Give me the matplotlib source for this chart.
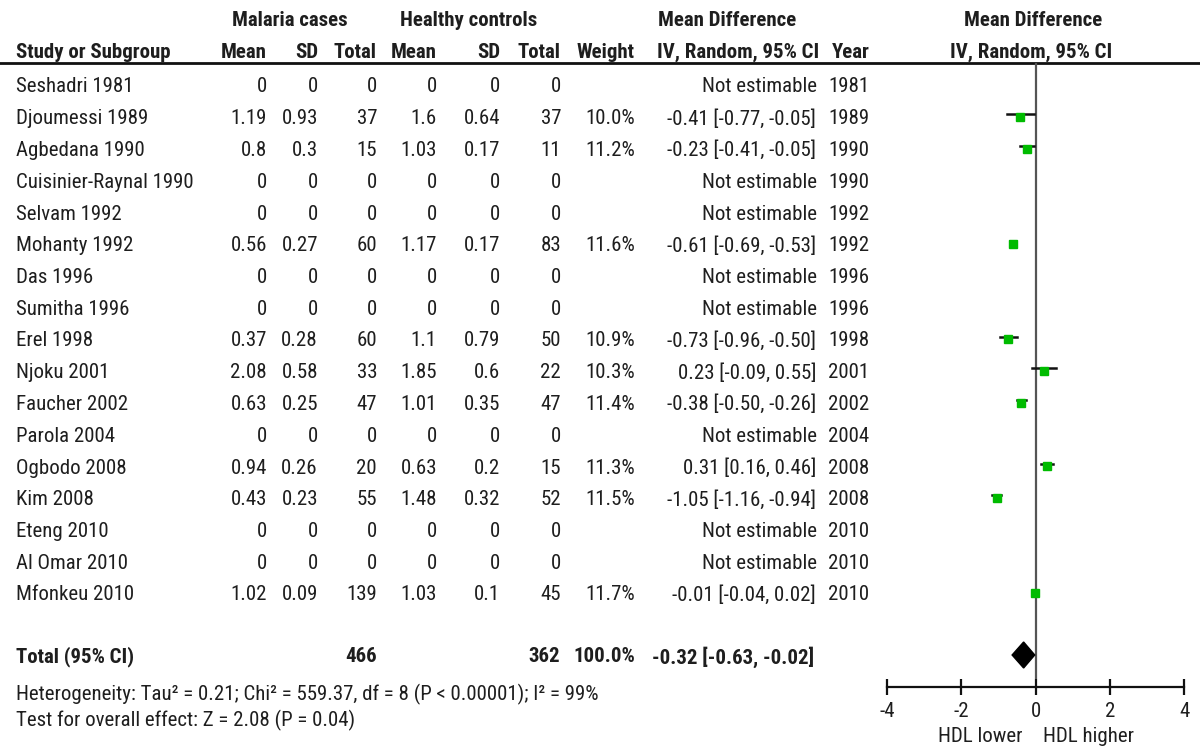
import matplotlib
matplotlib.use('Agg')
import matplotlib.pyplot as plt
import numpy as np
from matplotlib import font_manager
from matplotlib.patches import Polygon

# data
studies = ['Seshadri 1981', 'Djoumessi 1989', 'Agbedana 1990', 'Cuisinier-Raynal 1990',
           'Selvam 1992', 'Mohanty 1992', 'Das 1996', 'Sumitha 1996', 'Erel 1998',
           'Njoku 2001', 'Faucher 2002', 'Parola 2004', 'Ogbodo 2008', 'Kim 2008',
           'Eteng 2010', 'Al Omar 2010', 'Mfonkeu 2010']
years = [1981, 1989, 1990, 1990, 1992, 1992, 1996, 1996, 1998, 2001, 2002, 2004,
         2008, 2008, 2010, 2010, 2010]
mal_mean = [0, 1.19, 0.8, 0, 0, 0.56, 0, 0, 0.37, 2.08, 0.63, 0, 0.94, 0.43, 0, 0, 1.02]
mal_sd = [0, 0.93, 0.3, 0, 0, 0.27, 0, 0, 0.28, 0.58, 0.25, 0, 0.26, 0.23, 0, 0, 0.09]
mal_n = [0, 37, 15, 0, 0, 60, 0, 0, 60, 33, 47, 0, 20, 55, 0, 0, 139]
hc_mean = [0, 1.6, 1.03, 0, 0, 1.17, 0, 0, 1.1, 1.85, 1.01, 0, 0.63, 1.48, 0, 0, 1.03]
hc_sd = [0, 0.64, 0.17, 0, 0, 0.17, 0, 0, 0.79, 0.6, 0.35, 0, 0.2, 0.32, 0, 0, 0.1]
hc_n = [0, 37, 11, 0, 0, 83, 0, 0, 50, 22, 47, 0, 15, 52, 0, 0, 45]
weight = [None, 10.0, 11.2, None, None, 11.6, None, None, 10.9, 10.3, 11.4, None,
          11.3, 11.5, None, None, 11.7]
md = [None, -0.41, -0.23, None, None, -0.61, None, None, -0.73, 0.23, -0.38, None,
      0.31, -1.05, None, None, -0.01]
md_lo = [None, -0.77, -0.41, None, None, -0.69, None, None, -0.96, -0.09, -0.50, None,
         0.16, -1.16, None, None, -0.04]
md_hi = [None, -0.05, -0.05, None, None, -0.53, None, None, -0.50, 0.55, -0.26, None,
         0.46, -0.94, None, None, 0.02]
tot_md, tot_lo, tot_hi = -0.32, -0.63, -0.02
tot_weight = 100.0
het_text = 'Heterogeneity: Tau² = 0.21; Chi² = 559.37, df = 8 (P < 0.00001); I² = 99%'
eff_text = 'Test for overall effect: Z = 2.08 (P = 0.04)'
xticks = [-4, -2, 0, 2, 4]

# pick a narrow sans (the original uses Arial/Helvetica Narrow)
def wnum(w):
    if isinstance(w, str):
        return font_manager.weight_dict.get(w, 400)
    return w

have = {}
for f in font_manager.fontManager.ttflist:
    have.setdefault(f.name, set()).add(wnum(f.weight))

fam, stretch, fs = None, 'normal', 15
for name in ['Nimbus Sans Narrow', 'Liberation Sans Narrow', 'Arial Narrow',
             'Helvetica Narrow', 'Roboto Condensed', 'PT Sans Narrow',
             'Archivo Narrow', 'Fira Sans Condensed', 'IBM Plex Sans Condensed']:
    if name in have and 400 in have[name] and 700 in have[name]:
        fam = name
        break
if fam is None:
    fam, stretch, fs = 'DejaVu Sans', 'condensed', 12.5
plt.rcParams['font.family'] = [fam, 'DejaVu Sans']
plt.rcParams['font.stretch'] = stretch
tc = '#1e1e1e'

fig = plt.figure(figsize=(12, 7.52), dpi=100)
ax = fig.add_axes([0, 0, 1, 1])
ax.set_xlim(0, 1200)
ax.set_ylim(752, 0)
ax.axis('off')

def put(x, y, s, ha='right', bold=False):
    ax.text(x, y, s, ha=ha, va='center', fontsize=fs, color=tc,
            fontweight='bold' if bold else 'normal', fontstretch=stretch)

# headers
put(290, 20, 'Malaria cases', 'center', True)
put(469, 20, 'Healthy controls', 'center', True)
put(658, 20, 'Mean Difference', 'left', True)
put(1033, 20, 'Mean Difference', 'center', True)
put(16, 52, 'Study or Subgroup', 'left', True)
cols = [267, 318, 377, 437, 500, 561, 635]
for x, s in zip(cols, ['Mean', 'SD', 'Total', 'Mean', 'SD', 'Total', 'Weight']):
    put(x, 52, s, 'right', True)
put(657, 52, 'IV, Random, 95% CI', 'left', True)
put(870, 52, 'Year', 'right', True)
put(1031, 52, 'IV, Random, 95% CI', 'center', True)
ax.plot([0, 1200], [63, 63], color='#111111', lw=2)

row0, dy = 87, 31.75
n = len(studies)
for i in range(n):
    y = row0 + dy * i
    put(16, y, studies[i], 'left')
    vals = ['%g' % mal_mean[i], '%g' % mal_sd[i], str(mal_n[i]),
            '%g' % hc_mean[i], '%g' % hc_sd[i], str(hc_n[i])]
    for x, s in zip(cols[:6], vals):
        put(x, y, s)
    if weight[i] is None:
        put(817, y, 'Not estimable')
    else:
        put(635, y, '%.1f%%' % weight[i])
        put(816, y, '%.2f [%.2f, %.2f]' % (md[i], md_lo[i], md_hi[i]))
    put(869, y, str(years[i]))

ytot = 657
put(16, ytot, 'Total (95% CI)', 'left', True)
put(377, ytot, str(sum(mal_n)), 'right', True)
put(560, ytot, str(sum(hc_n)), 'right', True)
put(635, ytot, '%.1f%%' % tot_weight, 'right', True)
put(814, ytot, '%.2f [%.2f, %.2f]' % (tot_md, tot_lo, tot_hi), 'right', True)
put(16, 694, het_text, 'left')
put(16, 720, eff_text, 'left')
put(1023, 737, 'HDL lower', 'right')
put(1043, 737, 'HDL higher', 'left')

# forest panel
px0, px1, ptop, pbot = 887, 1184, 63, 687
fp = fig.add_axes([px0 / 1200, (752 - pbot) / 752, (px1 - px0) / 1200, (pbot - ptop) / 752])
fp.set_xlim(-4, 4)
ytop = (ptop - row0) / dy
ybot = (pbot - row0) / dy
fp.set_ylim(ybot, ytop)
fp.patch.set_alpha(0)
for s in ['left', 'right', 'top']:
    fp.spines[s].set_visible(False)
fp.spines['bottom'].set_linewidth(1.6)
fp.spines['bottom'].set_color('#111111')
fp.set_yticks([])
fp.set_xticks(xticks)
fp.set_xticklabels([str(t) for t in xticks], fontstretch=stretch)
fp.tick_params(axis='x', direction='inout', length=11, width=1.6, pad=5,
               labelsize=fs, colors='#111111', labelcolor=tc)

fp.vlines(0, ytop, (679 - row0) / dy, color='#555555', lw=1.6, zorder=1)
for i in range(n):
    if md[i] is None:
        continue
    fp.plot([md_lo[i], md_hi[i]], [i - 0.14, i - 0.14], color='#111111', lw=1.8, zorder=2)
    fp.plot(md[i], i - 0.05, marker='s', ms=5.5 * np.sqrt(weight[i] / 11.0),
            color='#00bb00', mec='#00bb00', zorder=3)
yt = (ytot - 2 - row0) / dy
h = 13 / dy
diamond = Polygon([[tot_lo, yt], [tot_md, yt - h], [tot_hi, yt], [tot_md, yt + h]],
                  closed=True, facecolor='black', edgecolor='black', zorder=4)
fp.add_patch(diamond)

fig.savefig('out.png', dpi=100)
